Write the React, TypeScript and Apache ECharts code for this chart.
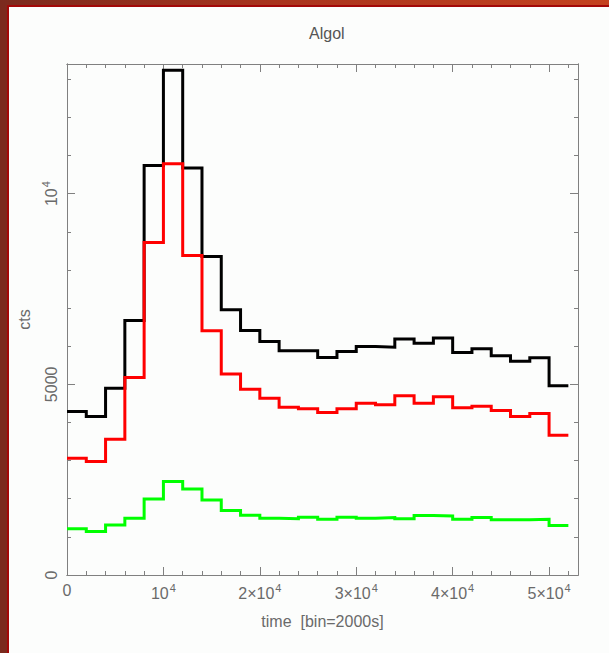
import React, { useEffect, useRef } from "react";
import * as echarts from "echarts";

// ---- data (counts per 2000 s bin, starting at t = 0) ----
const BIN_WIDTH = 2000;
const blackCounts = [
  4290, 4155, 4900, 6675, 10740, 13236, 10674, 8354, 6955, 6414, 6125, 5879, 5879,
  5704, 5862, 5993, 5975, 6186, 6080, 6212, 5835, 5932, 5748, 5608, 5696, 4961,
];
const redCounts = [
  3062, 2975, 3561, 5180, 8722, 10787, 8381, 6404, 5270, 4874, 4637, 4401, 4357,
  4260, 4357, 4506, 4462, 4698, 4506, 4672, 4383, 4427, 4313, 4155, 4234, 3667,
];
const greenCounts = [
  1216, 1138, 1312, 1488, 1995, 2450, 2257, 1969, 1689, 1566, 1488, 1478, 1514,
  1462, 1514, 1488, 1505, 1478, 1557, 1549, 1462, 1505, 1452, 1452, 1462, 1295,
];
const seriesColors = ["#000000", "#ff0000", "#00ff00"];

const X_MIN = 0;
const X_MAX = 53000;
const X_MAJOR = 10000;
const X_MINOR = 2000;
const Y_MIN = 0;
const Y_MAX = 13400;
const Y_MAJOR = 5000;
const Y_MINOR = 1000;

const TITLE = "Algol";
const X_NAME = "time  [bin=2000s]";
const Y_NAME = "cts";

const FONT = "'Liberation Sans', Arial, sans-serif";
const TEXT_COLOR = "#6a6a6a";
const AXIS_COLOR = "#808080";
const FS = 16;

function toSteps(counts: number[]) {
  const pts = counts.map((c, i) => [i * BIN_WIDTH, c]);
  pts.push([counts.length * BIN_WIDTH, counts[counts.length - 1]]);
  return pts;
}

function xLabel(v: number) {
  if (v === 0) return "0";
  const m = v / 10000;
  if (!Number.isInteger(m)) return "";
  return m === 1 ? "{b|10}{s|4}" : `{b|${m}×10}{s|4}`;
}
function yLabel(v: number) {
  if (v === 0) return "0";
  if (v === 10000) return "{b|10}{s|4}";
  if (v % 5000 === 0) return String(v);
  return "";
}

const rich = {
  b: { fontSize: FS, color: TEXT_COLOR, fontFamily: FONT, verticalAlign: "bottom" },
  s: { fontSize: 11, color: TEXT_COLOR, fontFamily: FONT, verticalAlign: "bottom", padding: [0, 0, 8, 1] },
};

function xAxisDef(position: "top" | "bottom", interval: number, len: number, labels: boolean) {
  return {
    type: "value",
    position,
    min: X_MIN,
    max: X_MAX,
    interval,
    axisLine: { show: true, onZero: false, lineStyle: { color: AXIS_COLOR, width: 1 } },
    axisTick: { show: true, inside: true, length: len, lineStyle: { color: AXIS_COLOR, width: 1 } },
    splitLine: { show: false },
    axisLabel: labels
      ? { show: true, margin: 7, formatter: xLabel, color: TEXT_COLOR, fontSize: FS, fontFamily: FONT, rich, showMaxLabel: false }
      : { show: false },
    name: labels ? X_NAME : "",
    nameLocation: "middle",
    nameGap: 38,
    nameTextStyle: { color: TEXT_COLOR, fontSize: FS, fontFamily: FONT },
  };
}

function yAxisDef(position: "left" | "right", interval: number, len: number, labels: boolean) {
  return {
    type: "value",
    position,
    min: Y_MIN,
    max: Y_MAX,
    interval,
    axisLine: { show: true, onZero: false, lineStyle: { color: AXIS_COLOR, width: 1 } },
    axisTick: { show: true, inside: true, length: len, lineStyle: { color: AXIS_COLOR, width: 1 } },
    splitLine: { show: false },
    axisLabel: labels
      ? { show: true, rotate: 90, margin: 8, formatter: yLabel, color: TEXT_COLOR, fontSize: FS, fontFamily: FONT, rich, showMaxLabel: false }
      : { show: false },
    name: labels ? Y_NAME : "",
    nameLocation: "middle",
    nameGap: 31,
    nameRotate: 90,
    nameTextStyle: { color: TEXT_COLOR, fontSize: FS, fontFamily: FONT },
  };
}

export default function App() {
  const ref = useRef<HTMLDivElement>(null);
  useEffect(() => {
    if (!ref.current) return;
    const chart = echarts.init(ref.current, null, { renderer: "svg" });
    const all = [blackCounts, redCounts, greenCounts];
    chart.setOption({
      animation: false,
      backgroundColor: "transparent",
      title: {
        text: TITLE,
        left: 304,
        top: 20,
        textStyle: { color: "#555", fontSize: FS, fontWeight: "normal", fontFamily: FONT },
      },
      grid: { left: 67, top: 64, right: 31, bottom: 78, containLabel: false },
      xAxis: [
        xAxisDef("bottom", X_MINOR, 4, false),
        xAxisDef("bottom", X_MAJOR, 8, true),
        xAxisDef("top", X_MINOR, 4, false),
        xAxisDef("top", X_MAJOR, 8, false),
      ],
      yAxis: [
        yAxisDef("left", Y_MINOR, 4, false),
        yAxisDef("left", Y_MAJOR, 8, true),
        yAxisDef("right", Y_MINOR, 4, false),
        yAxisDef("right", Y_MAJOR, 8, false),
      ],
      series: all.map((counts, i) => ({
        type: "line",
        xAxisIndex: 0,
        yAxisIndex: 0,
        step: "end",
        showSymbol: false,
        symbol: "none",
        clip: false,
        data: toSteps(counts),
        lineStyle: { color: seriesColors[i], width: 3, join: "miter", cap: "butt" },
        z: 3 + i,
      })),
    });
    return () => chart.dispose();
  }, []);

  return (
    <div style={{ position: "fixed", left: 0, top: 0, width: 609, height: 653, background: "#7b2a1e", overflow: "hidden" }}>
      <div
        style={{
          position: "absolute",
          left: 0,
          top: 0,
          width: 609,
          height: 7,
          background: "linear-gradient(to right, #7b2a1e 0%, #a9341d 45%, #c4421f 100%)",
        }}
      />
      <div style={{ position: "absolute", left: 7, top: 5, right: 0, bottom: 0, background: "#a30808" }} />
      <div style={{ position: "absolute", left: 9, top: 7, right: 0, bottom: 0, background: "#fcfdfc" }} />
      <div ref={ref} style={{ position: "absolute", left: 0, top: 0, width: 609, height: 653 }} />
    </div>
  );
}
